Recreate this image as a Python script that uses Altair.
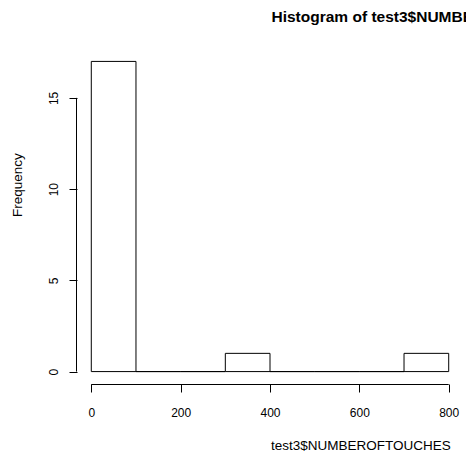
import altair as alt
import pandas as pd

# Histogram data
bin_start = [0, 100, 200, 300, 400, 500, 600, 700]
bin_end = [100, 200, 300, 400, 500, 600, 700, 800]
counts = [17, 0, 0, 1, 0, 0, 0, 1]

x_ticks = [0, 200, 400, 600, 800]
y_ticks = [0, 5, 10, 15]

main_title = "Histogram of test3$NUMBEROFTOUCHES"
x_title = "test3$NUMBEROFTOUCHES"
y_title = "Frequency"

W, H = 386, 335
FONT = "Liberation Sans"

bars_df = pd.DataFrame({"start": bin_start, "end": bin_end, "count": counts})
bars_df["zero"] = 0

xs = alt.Scale(domain=[-32, 832], nice=False, zero=False)
ys = alt.Scale(domain=[-0.68, 17.68], nice=False, zero=False)

x_axis = alt.Axis(
    values=x_ticks, domain=False, grid=False, ticks=True, tickSize=8,
    tickColor="black", tickWidth=1, labelFont=FONT, labelFontSize=12,
    labelColor="black", labelBaseline="alphabetic", labelPadding=24,
    labelFlush=False, labelOverlap=False,
    title=x_title, titleFont=FONT, titleFontSize=13.5, titleFontWeight="normal",
    titleColor="black", titleX=193.5, titleY=65, titleAlign="left",
    titleBaseline="alphabetic",
)
y_axis = alt.Axis(
    values=y_ticks, domain=False, grid=False, ticks=True, tickSize=8,
    tickColor="black", tickWidth=1, labelFont=FONT, labelFontSize=12,
    labelColor="black", labelAngle=270, labelAlign="center",
    labelBaseline="alphabetic", labelPadding=12, labelFlush=False,
    labelOverlap=False,
    title=y_title, titleFont=FONT, titleFontSize=13.5, titleFontWeight="normal",
    titleColor="black", titleX=-56, titleY=167.5, titleAngle=270,
    titleAlign="left", titleBaseline="alphabetic",
)

bars = alt.Chart(bars_df).mark_rect(
    fill="white", stroke="black", strokeWidth=1
).encode(
    x=alt.X("start:Q", scale=xs, axis=x_axis),
    x2="end:Q",
    y=alt.Y("zero:Q", scale=ys, axis=y_axis),
    y2="count:Q",
)

xdom_df = pd.DataFrame({"a": [min(x_ticks)], "b": [max(x_ticks)]})
xdom = alt.Chart(xdom_df).mark_rule(color="black", strokeWidth=1).encode(
    x=alt.X("a:Q", scale=xs), x2="b:Q", y=alt.value(H + 0.5)
)
ydom_df = pd.DataFrame({"a": [min(y_ticks)], "b": [max(y_ticks)]})
ydom = alt.Chart(ydom_df).mark_rule(color="black", strokeWidth=1).encode(
    y=alt.Y("a:Q", scale=ys), y2="b:Q", x=alt.value(-0.5)
)

title_df = pd.DataFrame({"t": [main_title]})
title = alt.Chart(title_df).mark_text(
    font=FONT, fontSize=15.5, fontWeight="bold", color="black",
    align="left", baseline="alphabetic"
).encode(text="t:N", x=alt.value(194.5), y=alt.value(-26.7))

chart = alt.layer(bars, xdom, ydom, title).properties(
    width=W, height=H,
    autosize=alt.AutoSizeParams(type="none"),
    padding={"left": 69, "top": 41, "right": 3, "bottom": 67},
    background="white",
).configure_view(stroke=None)

chart.save("out.html", embed_options={"renderer": "svg", "actions": False})
